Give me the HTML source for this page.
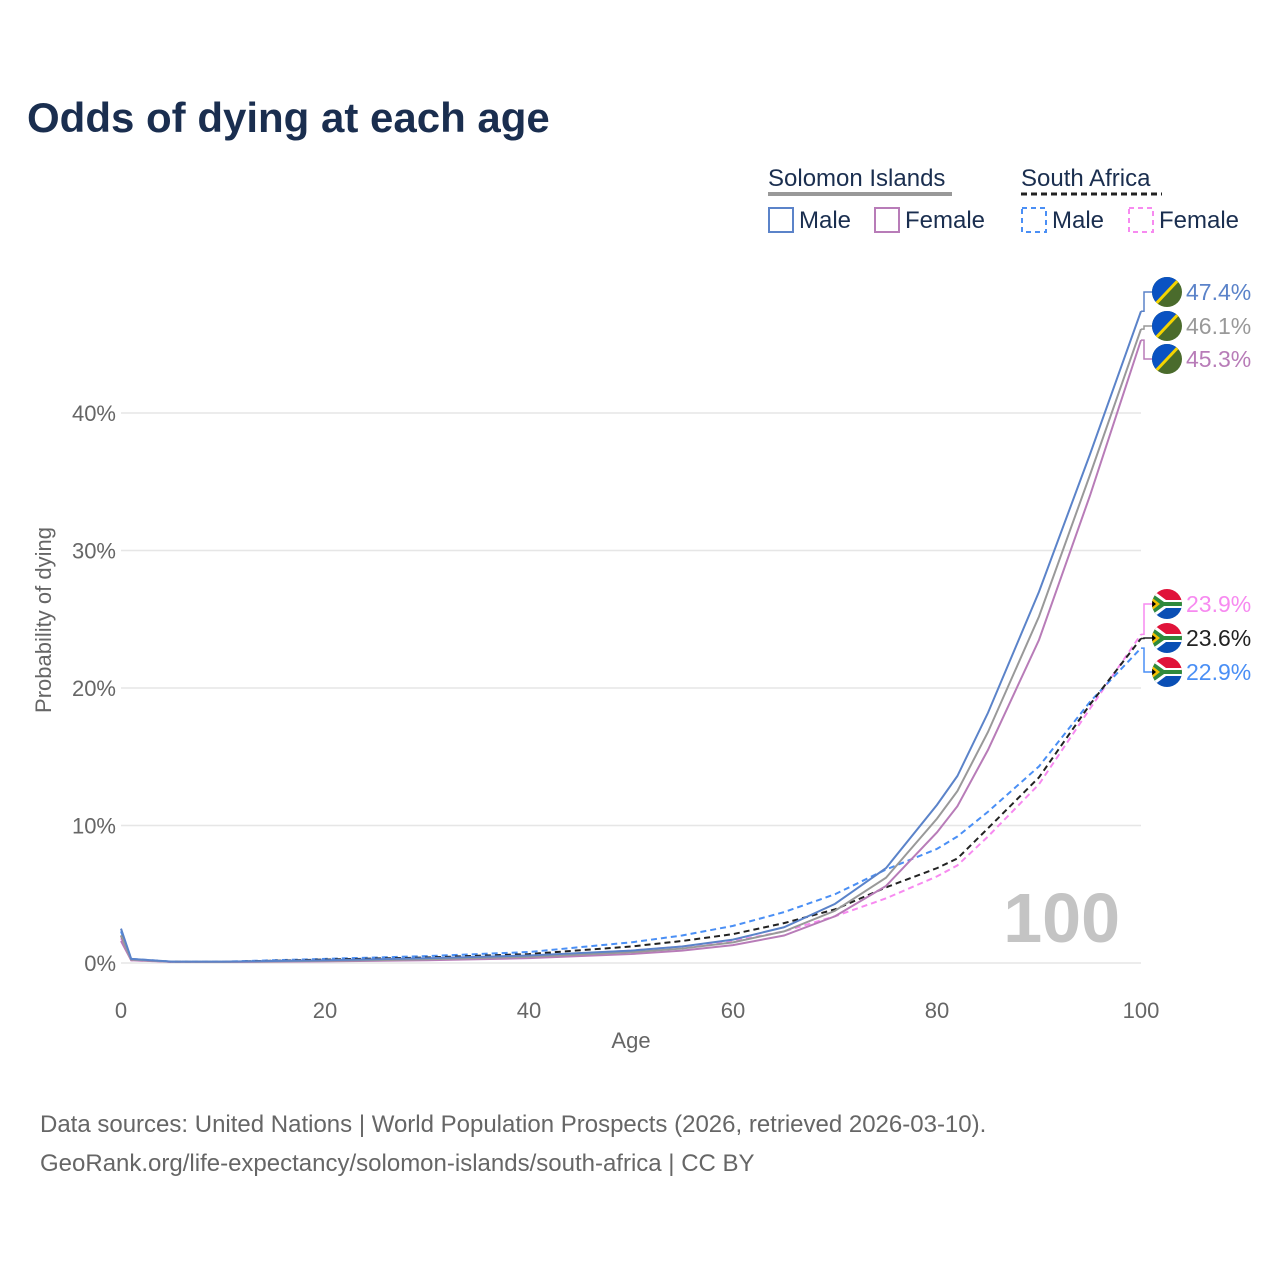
<!DOCTYPE html>
<html><head><meta charset="utf-8"><style>
body{margin:0;background:#fff;font-family:"Liberation Sans",sans-serif;}
svg{display:block}
</style></head><body>
<svg width="1280" height="1280" xmlns="http://www.w3.org/2000/svg" font-family="Liberation Sans, sans-serif">
<text x="27" y="132" font-size="42" font-weight="bold" fill="#1a2e4f">Odds of dying at each age</text>
<g>
 <text x="768" y="186" font-size="24" fill="#1a2e4f">Solomon Islands</text>
 <line x1="768" y1="194" x2="952" y2="194" stroke="#999" stroke-width="4"/>
 <text x="1021" y="186" font-size="24" fill="#1a2e4f">South Africa</text>
 <line x1="1021" y1="194" x2="1162" y2="194" stroke="#222" stroke-width="3" stroke-dasharray="6,4"/>
 <rect x="769" y="208" width="24" height="24" fill="none" stroke="#5b83c9" stroke-width="2"/>
 <text x="799" y="228" font-size="24" fill="#1a2e4f">Male</text>
 <rect x="875" y="208" width="24" height="24" fill="none" stroke="#b87cb8" stroke-width="2"/>
 <text x="905" y="228" font-size="24" fill="#1a2e4f">Female</text>
 <rect x="1022" y="208" width="24" height="24" fill="none" stroke="#4a8ff5" stroke-width="2" stroke-dasharray="5,4"/>
 <text x="1052" y="228" font-size="24" fill="#1a2e4f">Male</text>
 <rect x="1129" y="208" width="24" height="24" fill="none" stroke="#f78af0" stroke-width="2" stroke-dasharray="5,4"/>
 <text x="1159" y="228" font-size="24" fill="#1a2e4f">Female</text>
</g>
<g id="grid"></g>
<g id="series"></g>
<g id="labels"></g>
<text x="1120" y="942" font-size="70" font-weight="bold" fill="#c4c4c4" text-anchor="end">100</text>
<text x="631" y="1048" font-size="22" fill="#666" text-anchor="middle">Age</text>
<text transform="translate(51,620) rotate(-90)" font-size="22" fill="#666" text-anchor="middle">Probability of dying</text>
<text x="40" y="1132" font-size="24" fill="#666">Data sources: United Nations | World Population Prospects (2026, retrieved 2026-03-10).</text>
<text x="40" y="1171" font-size="24" fill="#666">GeoRank.org/life-expectancy/solomon-islands/south-africa | CC BY</text>
</svg>
<script>
const ages=[0,1,5,10,20,30,40,50,55,60,65,70,75,80,82,85,90,95,100];
const siMale=[2.5,0.3,0.1,0.1,0.2,0.35,0.55,0.9,1.2,1.7,2.6,4.3,6.9,11.5,13.6,18.2,27,37,47.4];
const siFemale=[1.6,0.2,0.08,0.07,0.12,0.2,0.35,0.65,0.9,1.3,2.0,3.4,5.6,9.5,11.4,15.5,23.5,34,45.3];
const siBoth=[2.0,0.25,0.09,0.08,0.16,0.27,0.45,0.78,1.05,1.5,2.3,3.8,6.2,10.5,12.5,16.8,25.2,35.5,46.1];
const saMale=[2.3,0.3,0.1,0.1,0.3,0.5,0.8,1.5,2.0,2.7,3.7,5.0,6.8,8.3,9.2,11.0,14.3,19.0,22.9];
const saFemale=[1.8,0.2,0.08,0.07,0.2,0.3,0.5,0.9,1.2,1.6,2.3,3.4,4.7,6.3,7.1,9.2,13.0,18.5,23.9];
const saBoth=[2.0,0.25,0.09,0.08,0.25,0.4,0.65,1.2,1.6,2.1,2.9,3.9,5.5,6.9,7.6,9.8,13.5,18.8,23.6];
const xTicks=[0,20,40,60,80,100];
const yTicks=[0,10,20,30,40];
const NS="http://www.w3.org/2000/svg";
const X=a=>121+a*10.2, Y=v=>963-v*13.75;
function mk(t,at,p){const e=document.createElementNS(NS,t);for(const k in at)e.setAttribute(k,at[k]);p.appendChild(e);return e;}
const grid=document.getElementById('grid');
yTicks.forEach(v=>{
 const l=mk('line',{x1:121,x2:1141,y1:Y(v),y2:Y(v),stroke:'#e6e6e6','stroke-width':1.5},grid);
 
 
 const t=mk('text',{x:116,y:Y(v)+8,'font-size':22,fill:'#666','text-anchor':'end'},grid);
 t.textContent=v+'%';
 
 
});
xTicks.forEach(a=>{
 const t=mk('text',{x:X(a),y:1018,'font-size':22,fill:'#666','text-anchor':'middle'},grid);
 t.textContent=a;
 
 
});
const ser=document.getElementById('series');
const defs=[[saFemale,'#f78af0',true,'line-sa-female'],[saMale,'#4a8ff5',true,'line-sa-male'],[saBoth,'#222',true,'line-sa-both'],[siFemale,'#b87cb8',false,'line-si-female'],[siBoth,'#999',false,'line-si-both'],[siMale,'#5b83c9',false,'line-si-male']];
defs.forEach(([d,c,dash,n])=>{
 const p=mk('path',{d:'M'+ages.map((a,i)=>X(a)+','+Y(d[i])).join('L'),fill:'none',stroke:c,'stroke-width':2,'stroke-dasharray':dash?'6,4':'none'},ser);
 
 
});
const lab=document.getElementById('labels');
const endL=[[siMale,'#5b83c9',292,'si'],[siBoth,'#999',326,'si'],[siFemale,'#b87cb8',359,'si'],[saFemale,'#f78af0',604,'sa'],[saBoth,'#222',638,'sa'],[saMale,'#4a8ff5',672,'sa']];
endL.forEach(([d,c,ly,f])=>{
 const v=d[d.length-1];
 mk('path',{d:`M1141,${Y(v)}H1144V${ly}H1152`,fill:'none',stroke:c,'stroke-width':1.5},lab);
 const g=mk('g',{},lab);
 
 
 const cid='c'+ly;
 const cp=mk('clipPath',{id:cid},g);mk('circle',{cx:1167,cy:ly,r:15},cp);
 const fg=mk('g',{'clip-path':`url(#${cid})`},g);
 if(f==='si'){
  mk('rect',{x:1150,y:ly-16,width:34,height:32,fill:'#4a6b2c'},fg);
  mk('path',{d:`M1150,${ly-16}H1184L1150,${ly+16}Z`,fill:'#0a52c2'},fg);
  mk('line',{x1:1184,y1:ly-18,x2:1150,y2:ly+18,stroke:'#f5d400','stroke-width':3},fg);
 }else{
  mk('rect',{x:1150,y:ly-16,width:34,height:16,fill:'#e0133a'},fg);
  mk('rect',{x:1150,y:ly,width:34,height:16,fill:'#0a4fb5'},fg);
  mk('path',{d:`M1150,${ly-16}L1166,${ly-4}H1184V${ly+4}H1166L1150,${ly+16}Z`,fill:'#fff'},fg);
  mk('path',{d:`M1150,${ly-12}L1164,${ly-2}H1184V${ly+2}H1164L1150,${ly+12}Z`,fill:'#2f8a3c'},fg);
  mk('path',{d:`M1150,${ly-8}L1160,${ly}L1150,${ly+8}Z`,fill:'#f5c000'},fg);
  mk('path',{d:`M1150,${ly-5}L1156,${ly}L1150,${ly+5}Z`,fill:'#000'},fg);
 }
 const t=mk('text',{x:1186,y:ly+8,'font-size':23,fill:c},lab);
 t.textContent=v.toFixed(1)+'%';
 
 
});
</script>
</body></html>
